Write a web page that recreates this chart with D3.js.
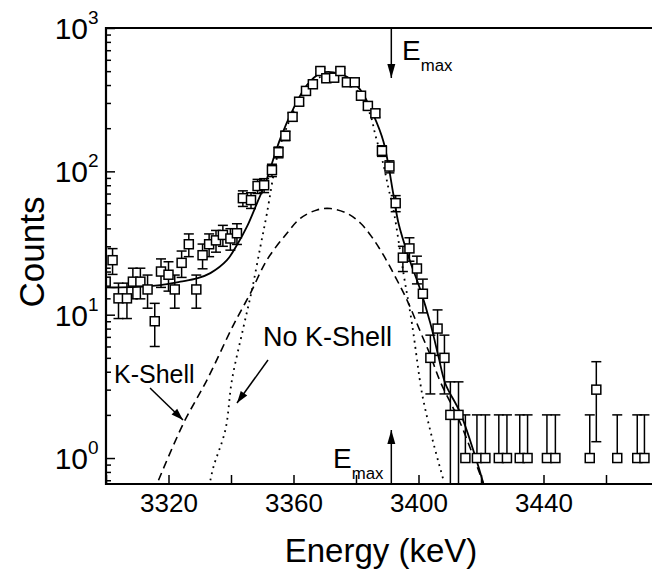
<!DOCTYPE html>
<html>
<head>
<meta charset="utf-8">
<script src="https://cdn.jsdelivr.net/npm/d3@7"></script>
<style>
  body { margin: 0; background: #fff; }
  svg { font-family: "Liberation Sans", Arial, sans-serif; }
</style>
</head>
<body>
<svg width="652" height="571"></svg>
<script>
// measured spectrum (bin energy, counts, error)
const energy = [3299.9, 3302.1, 3304.0, 3306.7, 3308.6, 3311.0, 3313.3, 3315.6, 3317.6, 3320.0,
  3322.0, 3324.2, 3326.5, 3328.9, 3330.9, 3333.0, 3335.2, 3337.4, 3339.8, 3341.9,
  3343.8, 3346.4, 3348.5, 3350.6, 3353.1, 3355.2, 3357.4, 3359.7, 3361.8, 3364.0,
  3366.2, 3368.6, 3370.5, 3373.0, 3375.0, 3377.1, 3379.6, 3381.6, 3383.8, 3386.2,
  3388.3, 3390.7, 3392.7, 3395.0, 3397.1, 3399.5, 3401.4, 3403.8, 3406.1, 3408.3,
  3410.2, 3412.8, 3415.0, 3418.7, 3421.4, 3425.7, 3428.3, 3432.4, 3434.9, 3441.1,
  3443.8, 3454.8, 3456.9, 3463.6, 3470.0, 3472.3];
const counts = [17, 24, 13, 13, 17, 17, 15, 9, 20, 19,
  15, 23, 31, 15, 26, 31, 33, 36, 34, 37,
  65, 63, 79, 80, 102, 136, 177, 240, 306, 364,
  405, 501, 446, 450, 501, 418, 418, 337, 286, 254,
  139, 108, 60, 25, 29, 21, 14, 5, 8, 5,
  2, 2, 1, 1, 1, 1, 1, 1, 1, 1,
  1, 1, 3, 1, 1, 1];
const countErr = [4.1, 4.9, 3.6, 3.6, 4.1, 4.1, 3.9, 3.0, 4.5, 4.4,
  3.9, 4.8, 5.6, 3.9, 5.1, 5.6, 5.7, 6.0, 5.8, 6.1,
  8.1, 7.9, 8.9, 8.9, 10.1, 11.7, 13.3, 15.5, 17.5, 19.1,
  20.1, 22.4, 21.1, 21.2, 22.4, 20.4, 20.4, 18.4, 16.9, 15.9,
  11.8, 10.4, 7.7, 5.0, 5.4, 4.6, 3.7, 2.2, 2.8, 2.2,
  1.4, 1.4, 1.0, 1.0, 1.0, 1.0, 1.0, 1.0, 1.0, 1.0,
  1.0, 1.0, 1.7, 1.0, 1.0, 1.0];

// fit curves
const totalE = [3300.1, 3304.6, 3317.4, 3323.8, 3329.1, 3333.4, 3338.7, 3341.9, 3345.1, 3348.3,
  3351.0, 3352.6, 3355.8, 3360.0, 3364.3, 3368.6, 3372.8, 3377.1, 3381.4, 3385.6,
  3388.8, 3392.0, 3393.6, 3396.8, 3400.6, 3403.8, 3406.4, 3408.6, 3413.4, 3418.2, 3420.8];
const totalV = [15.5, 15.5, 16.1, 17.0, 17.9, 19.5, 24.0, 30.6, 41.1, 59.8,
  82.6, 105, 170, 275, 400, 483, 491, 457, 370, 247,
  161, 68.4, 43.4, 25.4, 14.9, 8.7, 5.1, 3.3, 2.06, 1.02, 0.66];

const noShellE = [3333.4, 3334.4, 3338.2, 3340.3, 3344.0, 3346.7, 3349.4, 3351.5, 3354.2, 3355.8,
  3359.9, 3364.1, 3368.6, 3372.7, 3377.2, 3381.4, 3384.6, 3386.2, 3388.8, 3390.4,
  3392.0, 3395.2, 3397.9, 3400.6, 3401.6, 3404.5, 3408.0];
const noShellV = [0.70, 0.87, 1.57, 3.5, 8.2, 14.9, 29.8, 51, 111, 153,
  259, 381, 455, 470, 434, 341, 247, 179, 111, 76,
  53.8, 19.4, 8.7, 3.3, 2.5, 1.34, 0.70];

const kShellE = [3316.8, 3324.8, 3332.3, 3340.8, 3346.2, 3351.5, 3357.9, 3362.2, 3367.5, 3371.8,
  3377.1, 3381.4, 3385.0, 3388.8, 3394.2, 3396.8, 3400.6, 3403.8, 3407.0, 3413.4, 3420.8];
const kShellV = [0.70, 1.75, 3.5, 8.5, 14.1, 24.1, 37, 47, 53.8, 55,
  51, 43.6, 35, 26, 15.7, 12.0, 7.6, 5.2, 3.4, 1.75, 0.66];

const xTicks = [3300, 3320, 3340, 3360, 3380, 3400, 3420, 3440, 3460, 3480];
const xLabels = [3320, 3360, 3400, 3440];
const yMajor = [1, 10, 100, 1000];

const svg = d3.select("svg");
const pLeft = 106, pRight = 656, pTop = 28, pBottom = 484;

const x = d3.scaleLinear().domain([3300, 3476]).range([pLeft, pRight]);
const y = d3.scaleLog().domain([0.659, 1000]).range([pBottom, pTop]);

svg.append("defs").append("clipPath").attr("id", "plot")
  .append("rect").attr("x", pLeft).attr("y", pTop)
  .attr("width", pRight - pLeft).attr("height", pBottom - pTop);

const plot = svg.append("g").attr("clip-path", "url(#plot)");

const line = d3.line()
  .x(d => x(d[0]))
  .y(d => y(d[1]))
  .curve(d3.curveCatmullRom.alpha(0.5));

plot.append("path")
  .datum(d3.zip(kShellE, kShellV))
  .attr("d", line).attr("fill", "none")
  .attr("stroke", "#000").attr("stroke-width", 1.6)
  .attr("stroke-dasharray", "8,5");

plot.append("path")
  .datum(d3.zip(noShellE, noShellV))
  .attr("d", line).attr("fill", "none")
  .attr("stroke", "#000").attr("stroke-width", 1.8)
  .attr("stroke-dasharray", "1.8,4.5");

plot.append("path")
  .datum(d3.zip(totalE, totalV))
  .attr("d", line).attr("fill", "none")
  .attr("stroke", "#000").attr("stroke-width", 1.8);

// error bars
const pts = energy.map((e, i) => ({ e: e, c: counts[i], err: countErr[i] }));
const bars = plot.append("g").attr("stroke", "#000").attr("stroke-width", 1.5);
pts.forEach(p => {
  const cx = x(p.e);
  const hi = y(p.c + p.err);
  bars.append("line").attr("x1", cx).attr("x2", cx).attr("y1", y(p.c)).attr("y2", hi);
  bars.append("line").attr("x1", cx - 5).attr("x2", cx + 5).attr("y1", hi).attr("y2", hi);
  const lo = p.c - p.err;
  if (lo > 0) {
    const ly = Math.min(y(lo), pBottom + 5);
    bars.append("line").attr("x1", cx).attr("x2", cx).attr("y1", y(p.c)).attr("y2", ly);
    if (lo > 0.659)
      bars.append("line").attr("x1", cx - 5).attr("x2", cx + 5).attr("y1", ly).attr("y2", ly);
  }
});

plot.selectAll("rect.pt")
  .data(pts)
  .enter().append("rect")
  .attr("class", "pt")
  .attr("x", d => x(d.e) - 4.5)
  .attr("y", d => y(d.c) - 4.5)
  .attr("width", 9).attr("height", 9)
  .attr("fill", "#fff").attr("stroke", "#000").attr("stroke-width", 1.5);

// axes
const xAxis = svg.append("g")
  .attr("transform", `translate(0,${pBottom})`)
  .call(d3.axisBottom(x).tickValues(xTicks).tickSize(-9).tickPadding(10)
    .tickFormat(d => xLabels.includes(d) ? d : ""));
xAxis.select(".domain").remove();
xAxis.selectAll(".tick line").attr("stroke-width", 1.5);
xAxis.selectAll("text").attr("font-size", 26).attr("fill", "#000")
  .attr("font-family", "Liberation Sans, Arial, sans-serif");

const yMinor = [];
[0.1, 1, 10, 100].forEach(dec => {
  for (let k = 2; k <= 9; k++) {
    const v = dec * k;
    if (v >= 0.659 && v < 1000) yMinor.push(v);
  }
});

const yAxisMinor = svg.append("g")
  .attr("transform", `translate(${pLeft},0)`)
  .call(d3.axisLeft(y).tickValues(yMinor).tickSize(-5).tickFormat(""));
yAxisMinor.select(".domain").remove();
yAxisMinor.selectAll(".tick line").attr("stroke-width", 1.5);

const yAxis = svg.append("g")
  .attr("transform", `translate(${pLeft},0)`)
  .call(d3.axisLeft(y).tickValues(yMajor).tickSize(-9).tickFormat(""));
yAxis.select(".domain").remove();
yAxis.selectAll(".tick line").attr("stroke-width", 1.5);

yMajor.forEach(v => {
  svg.append("text")
    .attr("x", 88).attr("y", y(v) + 11)
    .attr("text-anchor", "end")
    .attr("font-size", 30)
    .text("10");
  svg.append("text")
    .attr("x", 88).attr("y", y(v) - 4)
    .attr("font-size", 19)
    .text(Math.round(Math.log10(v)));
});

// frame
svg.append("line").attr("x1", pLeft).attr("x2", pLeft).attr("y1", pTop - 1).attr("y2", pBottom + 1)
  .attr("stroke", "#000").attr("stroke-width", 2.2);
svg.append("line").attr("x1", pLeft - 1).attr("x2", 652).attr("y1", pBottom).attr("y2", pBottom)
  .attr("stroke", "#000").attr("stroke-width", 2.2);
svg.append("line").attr("x1", pLeft - 1).attr("x2", 652).attr("y1", pTop).attr("y2", pTop)
  .attr("stroke", "#000").attr("stroke-width", 2.2);

// axis titles
svg.append("text")
  .attr("x", 381).attr("y", 562)
  .attr("text-anchor", "middle")
  .attr("font-size", 33)
  .text("Energy (keV)");

svg.append("text")
  .attr("transform", "translate(44,252) rotate(-90)")
  .attr("text-anchor", "middle")
  .attr("font-size", 35)
  .text("Counts");

// annotations
function arrow(x1, y1, x2, y2, size) {
  svg.append("line")
    .attr("x1", x1).attr("y1", y1).attr("x2", x2).attr("y2", y2)
    .attr("stroke", "#000").attr("stroke-width", 1.5);
  const a = Math.atan2(y2 - y1, x2 - x1);
  const len = size || 12, w = 4;
  const bx = x2 - len * Math.cos(a), by = y2 - len * Math.sin(a);
  svg.append("path")
    .attr("d", `M${x2},${y2} L${bx + w * Math.sin(a)},${by - w * Math.cos(a)} L${bx - w * Math.sin(a)},${by + w * Math.cos(a)} Z`)
    .attr("fill", "#000");
}

const eMaxE = 3391.3;
arrow(x(eMaxE), pTop, x(eMaxE), 78, 14);
arrow(x(eMaxE), pBottom, x(eMaxE), 430, 14);

function emax(xp, yp, fs) {
  const t = svg.append("text").attr("x", xp).attr("y", yp).attr("font-size", fs);
  t.append("tspan").text("E");
  t.append("tspan").attr("font-size", fs * 0.6).attr("dy", fs * 0.4).text("max");
}
emax(402, 60, 28);
emax(333, 468, 28);

svg.append("text").attr("x", 114).attr("y", 383).attr("font-size", 25).text("K-Shell");
arrow(150, 388, 183, 420, 12);

svg.append("text").attr("x", 263).attr("y", 346).attr("font-size", 27).text("No K-Shell");
arrow(268, 360, 237, 403, 12);
</script>
</body>
</html>
